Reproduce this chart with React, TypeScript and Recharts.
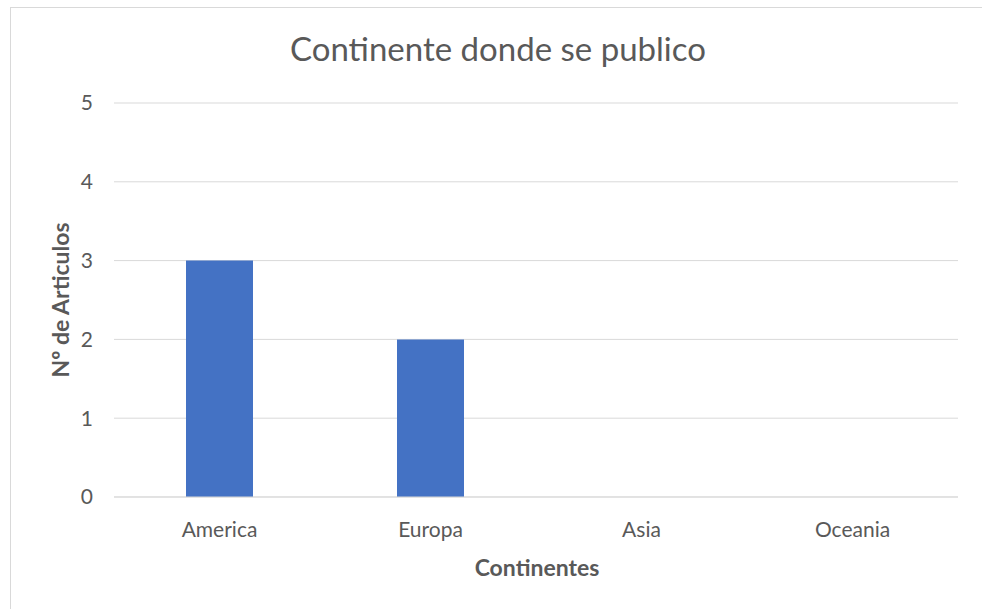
import React from "react";
import { BarChart, Bar, XAxis, YAxis, CartesianGrid } from "recharts";

const categories = ["America", "Europa", "Asia", "Oceania"];
const articles = [3, 2, 0, 0];
const yTicks = [0, 1, 2, 3, 4, 5];

const data = categories.map((c, i) => ({ name: c, value: articles[i] }));

const FONT = "Lato, 'Open Sans', sans-serif";

export default function App() {
  return (
    <div style={{ position: "absolute", left: 0, top: 0, width: 982, height: 609, background: "#fff", overflow: "hidden", fontFamily: FONT }}>
      <div style={{ position: "absolute", left: 10, top: 7, width: 1000, height: 700, border: "1px solid #d9d9d9", boxSizing: "border-box" }} />
      <BarChart
        width={982}
        height={609}
        data={data}
        margin={{ top: 103, right: 24, bottom: 82, left: 0 }}
        style={{ position: "absolute", left: 0, top: 0 }}
      >
        <CartesianGrid vertical={false} stroke="#d9d9d9" strokeWidth={1} />
        <XAxis
          dataKey="name"
          height={30}
          axisLine={{ stroke: "#d9d9d9" }}
          tickLine={false}
          tickSize={0}
          tickMargin={25}
          tick={{ fill: "#595959", fontSize: 21, fontFamily: FONT }}
        />
        <YAxis
          width={114}
          domain={[0, 5]}
          ticks={yTicks}
          axisLine={false}
          tickLine={false}
          tickSize={0}
          tickMargin={21}
          tick={{ fill: "#595959", fontSize: 21, fontFamily: FONT }}
        />
        <Bar dataKey="value" fill="#4472c4" barSize={67} isAnimationActive={false} />
      </BarChart>
      <div style={{ position: "absolute", left: 0, width: 996, top: 26, lineHeight: "44px", textAlign: "center", fontSize: 33, color: "#595959" }}>
        Continente donde se publico
      </div>
      <div style={{ position: "absolute", left: 72, width: 930, top: 552, lineHeight: "30px", textAlign: "center", fontSize: 23, fontWeight: "bold", color: "#595959" }}>
        Continentes
      </div>
      <div style={{ position: "absolute", left: 60, top: 300, width: 300, marginLeft: -150, marginTop: -15, height: 30, lineHeight: "30px", textAlign: "center", fontSize: 23, fontWeight: "bold", color: "#595959", transform: "rotate(-90deg)" }}>
        Nº de Articulos
      </div>
    </div>
  );
}
